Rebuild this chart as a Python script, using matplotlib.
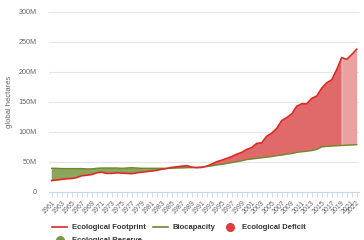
import numpy as np
import matplotlib
matplotlib.use("Agg")
import matplotlib.pyplot as plt
from matplotlib.lines import Line2D
from matplotlib.ticker import FuncFormatter

plt.rcParams['font.family'] = ['Liberation Sans', 'DejaVu Sans']

# data (million global hectares)
years = list(range(1961, 2023))
footprint = [19, 20, 21, 22, 22.5, 24, 27, 28, 29, 32,
             33, 31, 31, 32, 31.5, 31, 30.5, 32, 33, 34,
             35, 36, 38, 39, 41, 42, 43, 44, 41.5, 40.5,
             41, 43, 46.5, 50.5, 53, 56, 59, 63, 66, 71,
             74, 81, 82, 93, 98, 106, 119, 124, 130, 143,
             147, 147, 156, 160, 173, 182, 187, 204, 224, 221,
             229, 238]
biocapacity = [39.5, 39.5, 39, 39, 39, 39, 39, 38.5, 38.5, 39.5,
               40, 40, 40, 40, 39.5, 40, 40.5, 40, 39.5, 39.5,
               39.5, 39.5, 39.5, 39.5, 39.5, 40, 40, 40.5, 40.5, 41,
               41.5, 42.5, 43.5, 45, 46, 47.5, 49, 50.5, 52, 54,
               55, 56, 57, 58, 59, 60.5, 61.5, 63, 64, 66,
               67, 68, 69, 71, 75, 76, 76.5, 77, 77.5, 78,
               78.5, 79]
estimate_from = 2019
legend_labels = ["Ecological Footprint", "Biocapacity", "Ecological Deficit", "Ecological Reserve"]

x = np.array(years)
fp = np.array(footprint) * 1e6
bc = np.array(biocapacity) * 1e6

red = '#dc2a2a'
green = '#6b8a2a'
deficit = '#e06a6a'
deficit_light = '#eba1a1'
reserve = '#8ca45c'

fig = plt.figure(figsize=(3.64, 2.4), dpi=100)
ax = fig.add_axes([49.2 / 364, 48 / 240, 310 / 364, 180 / 240])

real = x <= estimate_from
est = x >= estimate_from
ax.fill_between(x[real], bc[real], fp[real], where=fp[real] >= bc[real], interpolate=True,
                color=deficit, lw=0)
ax.fill_between(x[est], bc[est], fp[est], color=deficit_light, lw=0)
ax.fill_between(x, bc, fp, where=bc >= fp, interpolate=True, color=reserve, lw=0)
ax.plot(x, bc, color=green, lw=1.0)
ax.plot(x, fp, color=red, lw=1.2)

ax.set_xlim(1960.5, 2022.5)
ax.set_ylim(0, 300e6)
ax.set_yticks(np.arange(0, 300e6 + 1, 50e6))
ax.yaxis.set_major_formatter(FuncFormatter(lambda v, p: "0" if v == 0 else f"{int(v / 1e6)}M"))
ax.grid(axis='y', color='#e6e6e6', lw=0.8)
ax.set_axisbelow(True)
for s in ['top', 'right', 'left']:
    ax.spines[s].set_visible(False)
ax.spines['bottom'].set_color('#ccd6eb')
ax.spines['bottom'].set_linewidth(0.8)
ax.tick_params(axis='y', length=0, labelsize=5.2, labelcolor='#666666', pad=9)

ax.set_xticks(x)
lbls = [str(y) if (y - 1961) % 2 == 0 or y == 2022 else '' for y in years]
ax.set_xticklabels(lbls, rotation=45, ha='right', va='top', rotation_mode='anchor')
ax.tick_params(axis='x', length=3.5, width=0.6, color='#ccd6eb', labelsize=5.0,
               labelcolor='#666666', pad=2)

ax.set_ylabel("global hectares", fontsize=5.5, color='#666666', labelpad=8)
ax.yaxis.set_label_coords(-36 / 310, 0.5)

h_fp = Line2D([], [], color=red, lw=1.2)
h_bc = Line2D([], [], color=green, lw=1.2)
h_def = Line2D([], [], color='#e03a3a', marker='o', ls='', ms=5.5)
h_res = Line2D([], [], color='#7a9a45', marker='o', ls='', ms=5.5)
# legend fills column by column, so order for row-wise layout
fig.legend([h_fp, h_res, h_bc, h_def],
           [legend_labels[0], legend_labels[3], legend_labels[1], legend_labels[2]],
           ncol=3, loc='upper left', bbox_to_anchor=(52 / 364, 1 - 224 / 240),
           frameon=False, prop={'size': 5.5, 'weight': 'bold'}, labelcolor='#333333',
           handlelength=2.0, handletextpad=0.6, columnspacing=0.9, labelspacing=0.75,
           borderaxespad=0, borderpad=0)

fig.savefig('out.png', dpi=100)
